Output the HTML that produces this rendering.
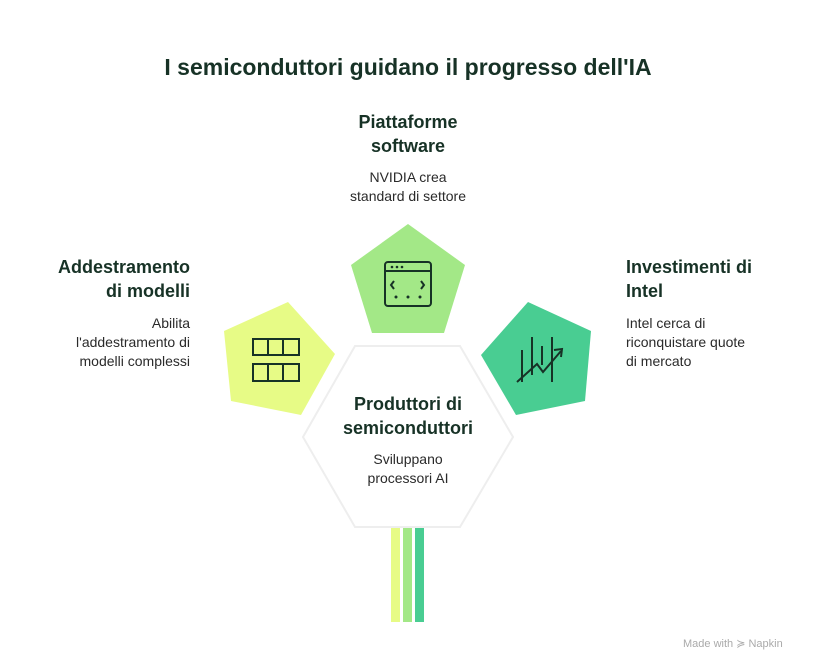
<!DOCTYPE html>
<html><head><meta charset="utf-8"><style>
body{margin:0;background:#fff;}
.w{position:relative;width:816px;height:672px;overflow:hidden;font-family:"Liberation Sans",sans-serif;color:#173226;}
.t{position:absolute;font-weight:bold;}
.d{position:absolute;font-size:14px;line-height:19px;color:#2a2a2a;}
</style></head><body><div class="w">
<svg width="816" height="672" style="position:absolute;left:0;top:0">
<polygon points="408,224 465,265 444,333 372,333 351,265" fill="#a3e887"/>
<polygon points="224,331 288,302 335,354 301,415 231,401" fill="#e7fb86"/>
<polygon points="528,302 591,331 585,401 516,415 481,355" fill="#49cd92"/>
<rect x="391" y="527" width="9" height="95" fill="#e7fb86"/>
<rect x="403" y="527" width="9" height="95" fill="#a3e887"/>
<rect x="415" y="527" width="9" height="95" fill="#49cd92"/>
<polygon points="355,346 460,346 513,437 460,527 355,527 303,437" fill="#fff" stroke="#eeeeee" stroke-width="2"/>
<g fill="none" stroke="#173226" stroke-width="2">
<rect x="253" y="339" width="46" height="16"/><rect x="253" y="364" width="46" height="17"/>
<line x1="268" y1="339" x2="268" y2="355"/><line x1="283" y1="339" x2="283" y2="355"/>
<line x1="268" y1="364" x2="268" y2="381"/><line x1="283" y1="364" x2="283" y2="381"/>
<rect x="385" y="262" width="46" height="44" rx="3"/><line x1="385" y1="271" x2="431" y2="271"/>
<polyline points="394,281 391,285 394,289"/><polyline points="421,281 424,285 421,289"/>
<polyline points="517,382 537,364 543,372 561,351"/><polyline points="554,350 562,349 561,357"/>
<line x1="522" y1="350" x2="522" y2="382"/><line x1="532" y1="337" x2="532" y2="375"/><line x1="542" y1="346" x2="542" y2="365"/><line x1="552" y1="337" x2="552" y2="382"/>
</g>
<g fill="#173226"><circle cx="392" cy="267" r="1.3"/><circle cx="397" cy="267" r="1.3"/><circle cx="402" cy="267" r="1.3"/>
<circle cx="396" cy="297" r="1.5"/><circle cx="408" cy="297" r="1.5"/><circle cx="420" cy="297" r="1.5"/></g>
</svg>
<div class="t" style="left:0;width:816px;top:54px;text-align:center;font-size:23px;">I semiconduttori guidano il progresso dell'IA</div>
<div class="t" style="left:308px;width:200px;top:110px;text-align:center;font-size:18px;line-height:24px;">Piattaforme<br>software</div>
<div class="d" style="left:308px;width:200px;top:168px;text-align:center;">NVIDIA crea<br>standard di settore</div>
<div class="t" style="left:20px;width:170px;top:255px;text-align:right;font-size:18px;line-height:24px;">Addestramento<br>di modelli</div>
<div class="d" style="left:20px;width:170px;top:314px;text-align:right;">Abilita<br>l'addestramento di<br>modelli complessi</div>
<div class="t" style="left:626px;width:180px;top:255px;font-size:18px;line-height:24px;">Investimenti di<br>Intel</div>
<div class="d" style="left:626px;width:180px;top:314px;">Intel cerca di<br>riconquistare quote<br>di mercato</div>
<div class="t" style="left:308px;width:200px;top:392px;text-align:center;font-size:18px;line-height:24px;">Produttori di<br>semiconduttori</div>
<div class="d" style="left:308px;width:200px;top:450px;text-align:center;">Sviluppano<br>processori AI</div>
<div style="position:absolute;left:683px;top:637px;font-size:11px;color:#aaa;">Made with ≽ Napkin</div>
</div></body></html>
